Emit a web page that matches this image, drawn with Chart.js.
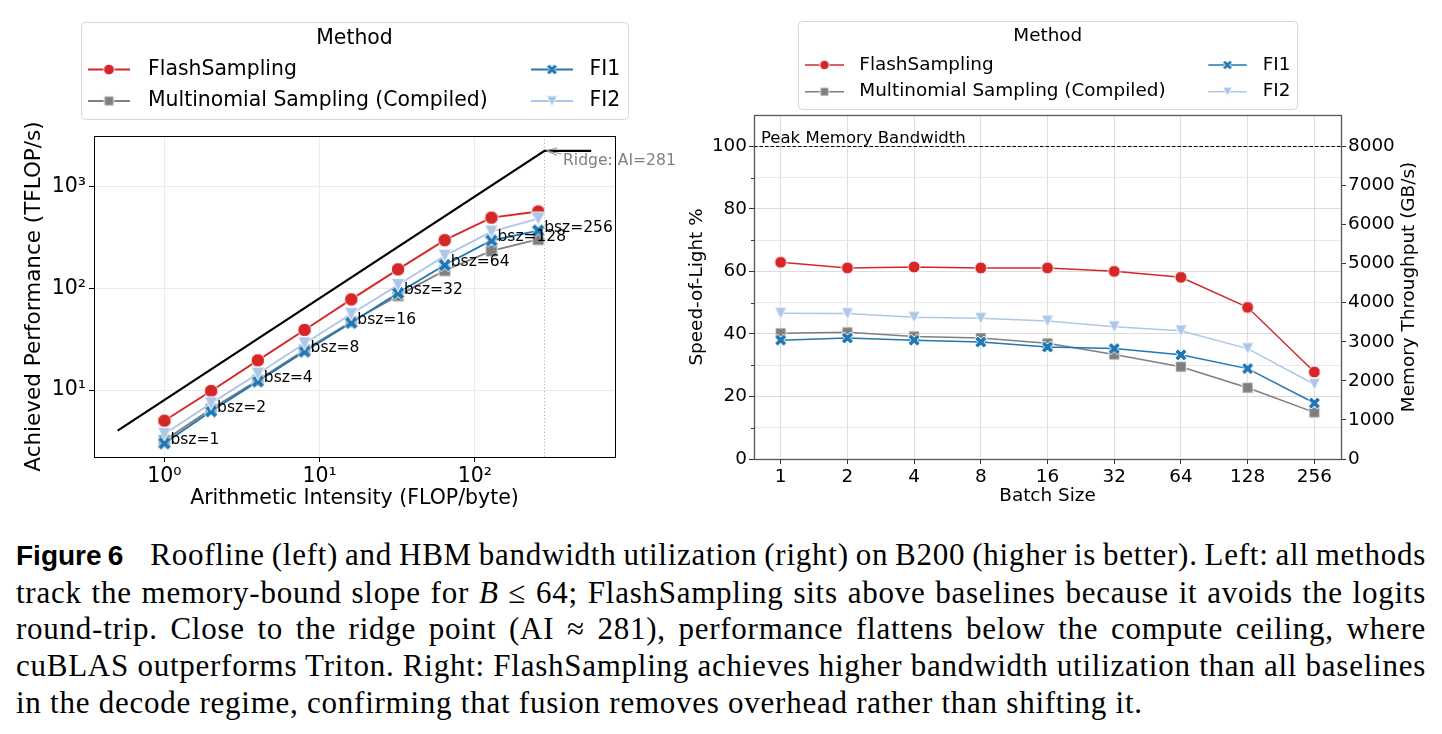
<!DOCTYPE html>
<html>
<head>
<meta charset="utf-8">
<script src="https://cdn.jsdelivr.net/npm/chart.js@4.4.1/dist/chart.umd.min.js"></script>
<style>
  html, body { margin: 0; padding: 0; background: #fff; }
  body { width: 1442px; height: 734px; position: relative; overflow: hidden; }
  canvas { position: absolute; top: 0; }
  #roofline { left: 0; }
  #bandwidth { left: 680px; }
  #caption { position: absolute; left: 16px; top: 537px; width: 1410px; color: #000;
             font-family: 'Liberation Serif', serif; font-size: 31px; line-height: 36.7px; letter-spacing: 0.75px; }
  #caption div { white-space: nowrap; }
  #caption span { display: inline-block; white-space: nowrap; }
  #caption b { font-family: 'Liberation Sans', sans-serif; font-size: 28px; letter-spacing: 0; margin-right: 20px; }
</style>
</head>
<body>
<canvas id="roofline" width="690" height="520"></canvas>
<canvas id="bandwidth" width="762" height="520"></canvas>
<div id="caption">
  <div class="j"><span><b>Figure 6</b> Roofline (left) and HBM bandwidth utilization (right) on B200 (higher is better). Left: all methods</span></div>
  <div class="j"><span>track the memory-bound slope for <i>B</i> ≤ 64; FlashSampling sits above baselines because it avoids the logits</span></div>
  <div class="j"><span>round-trip. Close to the ridge point (AI ≈ 281), performance flattens below the compute ceiling, where</span></div>
  <div class="j"><span>cuBLAS outperforms Triton. Right: FlashSampling achieves higher bandwidth utilization than all baselines</span></div>
  <div><span>in the decode regime, confirming that fusion removes overhead rather than shifting it.</span></div>
</div>
<script>
// data
const methodNames = ['FlashSampling', 'Multinomial Sampling (Compiled)', 'FI1', 'FI2'];
const batchSizes = [1, 2, 4, 8, 16, 32, 64, 128, 256];

// left: roofline (TFLOP/s vs FLOP/byte)
const intensity = [1, 2, 4, 8, 16, 32, 64, 128, 256];
const perfFlash = [5.0, 9.8, 19.6, 39, 78, 154, 298, 496, 570];
const perfMultinomial = [3.2, 6.5, 12.5, 24.8, 47, 85, 150, 234, 303];
const perfFI1 = [3.0, 6.2, 12.2, 24, 46, 90, 170, 296, 370];
const perfFI2 = [3.7, 7.4, 14.5, 28.7, 56, 108, 209, 361, 485];
const roofAI = [0.5, 281, 562];
const roofPerf = [4, 2248, 2248];
const ridgeAI = 281;
const aiTicks = [1, 10, 100];
const perfTicks = [10, 100, 1000];

// right: speed-of-light % per batch size
const solFlash = [62.9, 61.1, 61.4, 61.1, 61.1, 60.0, 58.1, 48.5, 27.8];
const solMultinomial = [40.2, 40.5, 39.2, 38.7, 37.0, 33.4, 29.5, 22.8, 14.9];
const solFI1 = [38.0, 38.7, 38.0, 37.4, 35.8, 35.3, 33.3, 28.9, 17.9];
const solFI2 = [46.6, 46.5, 45.3, 45.0, 44.1, 42.3, 41.0, 35.3, 23.9];
const peakPct = 100;
const pctTicks = [0, 10, 20, 30, 40, 50, 60, 70, 80, 90, 100];
const gbpsTicks = [0, 1000, 2000, 3000, 4000, 5000, 6000, 7000, 8000];

// styles
const colors = ['#d62728', '#7f7f7f', '#1f77b4', '#aec7e8'];
const markerKinds = ['o', 's', 'X', 'v'];
const FONT = "'DejaVu Sans', sans-serif";

Chart.defaults.font.family = FONT;
Chart.defaults.color = '#000';

function series(xs, ys) {
    return xs.map((x, i) => ({ x: x, y: ys[i] }));
}

// matplotlib-like marker drawn once into a small canvas, used as pointStyle
function makeMarker(kind, color, size) {
    const s = Math.ceil(size + 4);
    const c = document.createElement('canvas');
    c.width = s; c.height = s;
    const g = c.getContext('2d');
    const h = size / 2;
    g.translate(s / 2, s / 2);
    g.beginPath();
    if (kind === 'o') {
        g.arc(0, 0, h, 0, Math.PI * 2);
    } else if (kind === 's') {
        g.rect(-h * 0.88, -h * 0.88, h * 1.76, h * 1.76);
    } else if (kind === 'v') {
        g.moveTo(0, h); g.lineTo(-h, -h); g.lineTo(h, -h); g.closePath();
    } else if (kind === 'X') {
        const pts = [[-0.25, -0.5], [0, -0.25], [0.25, -0.5], [0.5, -0.25], [0.25, 0], [0.5, 0.25],
                     [0.25, 0.5], [0, 0.25], [-0.25, 0.5], [-0.5, 0.25], [-0.25, 0], [-0.5, -0.25]];
        pts.forEach((p, i) => i ? g.lineTo(p[0] * size, p[1] * size) : g.moveTo(p[0] * size, p[1] * size));
        g.closePath();
    }
    g.fillStyle = color;
    g.fill();
    g.strokeStyle = '#fff';
    g.lineWidth = 0.9;
    g.stroke();
    return c;
}

function drawLegend(ctx, L) {
    ctx.save();
    ctx.beginPath();
    ctx.roundRect(L.box[0] + 0.5, L.box[1] + 0.5, L.box[2], L.box[3], 4);
    ctx.fillStyle = 'rgba(255,255,255,0.8)';
    ctx.fill();
    ctx.strokeStyle = '#d6d6d6';
    ctx.lineWidth = 1;
    ctx.stroke();
    ctx.font = L.fontSize + 'px ' + FONT;
    ctx.fillStyle = '#000';
    ctx.textBaseline = 'middle';
    ctx.textAlign = 'center';
    ctx.fillText('Method', L.titleX, L.titleY);
    ctx.textAlign = 'left';
    methodNames.forEach((name, k) => {
        const col = L.cols[k < 2 ? 0 : 1];
        const y = L.rows[k % 2];
        ctx.strokeStyle = colors[k];
        ctx.lineWidth = L.lineWidth;
        ctx.beginPath();
        ctx.moveTo(col.x0, y);
        ctx.lineTo(col.x1, y);
        ctx.stroke();
        const m = L.markers[k];
        ctx.drawImage(m, (col.x0 + col.x1) / 2 - m.width / 2, y - m.height / 2);
        ctx.fillStyle = '#000';
        ctx.fillText(name, col.text, y);
    });
    ctx.restore();
}

const framePlugin = {
    id: 'frame',
    afterDraw(chart, args, opts) {
        const { ctx, chartArea: a } = chart;
        ctx.save();
        ctx.strokeStyle = opts.color;
        ctx.lineWidth = opts.width;
        ctx.strokeRect(Math.round(a.left) + 0.5, Math.round(a.top) + 0.5,
                       Math.round(a.right - a.left), Math.round(a.bottom - a.top));
        if (opts.legend) drawLegend(ctx, opts.legend);
        ctx.restore();
    }
};

// ---------- left chart ----------
const sup = { '0': '\u2070', '1': '\u00b9', '2': '\u00b2', '3': '\u00b3' };
const pow10Label = v => '10' + sup[String(Math.round(Math.log10(v)))];

const leftMarkers = colors.map((c, k) => makeMarker(markerKinds[k], c, 13.5));
const leftLegendMarkers = colors.map((c, k) => makeMarker(markerKinds[k], c, 10.7));
const perfSeries = [perfFlash, perfMultinomial, perfFI1, perfFI2];

const rooflineExtras = {
    id: 'rooflineExtras',
    beforeDatasetsDraw(chart) {
        const { ctx, chartArea: a, scales } = chart;
        const x = Math.round(scales.x.getPixelForValue(ridgeAI)) + 0.5;
        ctx.save();
        ctx.strokeStyle = '#b0b0b0';
        ctx.lineWidth = 1;
        ctx.setLineDash([1.2, 2.2]);
        ctx.beginPath();
        ctx.moveTo(x, a.top);
        ctx.lineTo(x, a.bottom);
        ctx.stroke();
        ctx.restore();
    },
    afterDatasetsDraw(chart) {
        const { ctx, scales } = chart;
        ctx.save();
        // bsz labels next to the FI1 points
        const meta = chart.getDatasetMeta(chart.data.datasets.findIndex(d => d.label === 'FI1'));
        ctx.font = '15.5px ' + FONT;
        ctx.fillStyle = '#000';
        ctx.textBaseline = 'middle';
        ctx.textAlign = 'left';
        meta.data.forEach((pt, i) => ctx.fillText('bsz=' + batchSizes[i], pt.x + 6, pt.y - 3));
        // ridge annotation arrow
        const rx = scales.x.getPixelForValue(ridgeAI);
        const ry = scales.y.getPixelForValue(roofPerf[1]);
        ctx.strokeStyle = '#8a8a8a';
        ctx.lineWidth = 1;
        ctx.beginPath();
        ctx.moveTo(rx + 17, ry + 3);
        ctx.lineTo(rx + 2, ry);
        ctx.moveTo(rx + 12.5, ry - 3);
        ctx.lineTo(rx + 2, ry);
        ctx.lineTo(rx + 12.5, ry + 4.5);
        ctx.stroke();
        ctx.restore();
    },
    afterDraw(chart) {
        const { ctx, scales } = chart;
        const rx = scales.x.getPixelForValue(ridgeAI);
        const ry = scales.y.getPixelForValue(roofPerf[1]);
        ctx.save();
        ctx.font = '15.6px ' + FONT;
        ctx.fillStyle = '#808080';
        ctx.textBaseline = 'middle';
        ctx.fillText('Ridge: AI=' + ridgeAI, rx + 18.5, ry + 10.5);
        ctx.restore();
    }
};

new Chart(document.getElementById('roofline'), {
    type: 'line',
    data: {
        datasets: [
            {
                label: 'roof',
                data: series(roofAI, roofPerf),
                borderColor: '#000',
                borderWidth: 2.2,
                pointRadius: 0,
                order: 10,
            },
            ...methodNames.map((name, k) => ({
                label: name,
                data: series(intensity, perfSeries[k]),
                borderColor: colors[k],
                backgroundColor: colors[k],
                borderWidth: 1.9,
                pointStyle: leftMarkers[k],
                pointRadius: 6,
                order: 4 - k,
            })),
        ]
    },
    options: {
        responsive: false,
        animation: false,
        devicePixelRatio: 1,
        layout: { padding: { left: 0, top: 136, right: 75, bottom: 0 } },
        plugins: {
            legend: { display: false },
            tooltip: { enabled: false },
            frame: {
                color: '#000', width: 1,
                legend: {
                    box: [81, 22, 547, 97], fontSize: 20.4, titleX: 354.5, titleY: 38.5,
                    rows: [69.5, 101], lineWidth: 1.8, markers: leftLegendMarkers,
                    cols: [{ x0: 88, x1: 130, text: 148 }, { x0: 531, x1: 573, text: 589.5 }],
                },
            },
        },
        scales: {
            x: {
                type: 'logarithmic',
                min: 0.352,
                max: 800,
                bounds: 'data',
                afterBuildTicks: s => { s.ticks = aiTicks.map(v => ({ value: v })); },
                afterFit: s => { s.height = 63; },
                ticks: { callback: v => pow10Label(v), font: { size: 20.5 }, padding: 2, maxRotation: 0, autoSkip: false },
                grid: { color: '#ebebeb', tickLength: 5, tickColor: '#000' },
                border: { display: false },
                title: { display: true, text: 'Arithmetic Intensity (FLOP/byte)', font: { size: 20.5 }, padding: { top: 0, bottom: 8.7 } },
            },
            y: {
                type: 'logarithmic',
                min: 2.2,
                max: 3150,
                bounds: 'data',
                afterBuildTicks: s => { s.ticks = perfTicks.map(v => ({ value: v })); },
                afterFit: s => { s.width = 94; },
                ticks: { callback: v => pow10Label(v), font: { size: 20.5 }, padding: 3, autoSkip: false },
                grid: { color: '#ebebeb', tickLength: 5, tickColor: '#000' },
                border: { display: false },
                title: { display: true, text: 'Achieved Performance (TFLOP/s)', font: { size: 21.5 }, padding: { top: 22, bottom: 0 } },
            }
        }
    },
    plugins: [framePlugin, rooflineExtras]
});

// ---------- right chart ----------
const rightMarkers = colors.map((c, k) => makeMarker(markerKinds[k], c, 12));
const rightLegendMarkers = colors.map((c, k) => makeMarker(markerKinds[k], c, 9.5));
const solSeries = [solFlash, solMultinomial, solFI1, solFI2];
const batchIndex = batchSizes.map((b, i) => i);

const bandwidthExtras = {
    id: 'bandwidthExtras',
    afterDatasetsDraw(chart) {
        const { ctx, chartArea: a, scales } = chart;
        const y = Math.round(scales.y.getPixelForValue(peakPct)) + 0.5;
        ctx.save();
        ctx.strokeStyle = '#000';
        ctx.lineWidth = 1;
        ctx.setLineDash([3.5, 2]);
        ctx.beginPath();
        ctx.moveTo(a.left, y);
        ctx.lineTo(a.right, y);
        ctx.stroke();
        ctx.setLineDash([]);
        ctx.font = '16.5px ' + FONT;
        ctx.fillStyle = '#000';
        ctx.textBaseline = 'alphabetic';
        ctx.fillText('Peak Memory Bandwidth', a.left + 7, y - 4);
        // minor ticks on the left axis
        ctx.strokeStyle = '#333';
        pctTicks.filter(v => v % 20 !== 0).forEach(v => {
            const ty = Math.round(scales.y.getPixelForValue(v)) + 0.5;
            ctx.beginPath();
            ctx.moveTo(a.left - 3, ty);
            ctx.lineTo(a.left, ty);
            ctx.stroke();
        });
        // right axis title, reading bottom to top
        ctx.translate(729, (a.top + a.bottom) / 2);
        ctx.rotate(-Math.PI / 2);
        ctx.font = '18.4px ' + FONT;
        ctx.textAlign = 'center';
        ctx.textBaseline = 'middle';
        ctx.fillText('Memory Throughput (GB/s)', 0, 0);
        ctx.restore();
    }
};

new Chart(document.getElementById('bandwidth'), {
    type: 'line',
    data: {
        datasets: methodNames.map((name, k) => ({
            label: name,
            data: series(batchIndex, solSeries[k]),
            borderColor: colors[k],
            backgroundColor: colors[k],
            borderWidth: 1.5,
            pointStyle: rightMarkers[k],
            pointRadius: 6,
            order: 4 - k,
            yAxisID: 'y',
        }))
    },
    options: {
        responsive: false,
        animation: false,
        devicePixelRatio: 1,
        layout: { padding: { left: 0, top: 115, right: 0, bottom: 0 } },
        plugins: {
            legend: { display: false },
            tooltip: { enabled: false },
            frame: {
                color: '#555', width: 1.3,
                legend: {
                    box: [118, 21, 499, 88], fontSize: 18.4, titleX: 367.8, titleY: 36.7,
                    rows: [65, 91.7], lineWidth: 1.5, markers: rightLegendMarkers,
                    cols: [{ x0: 125, x1: 164, text: 179.3 }, { x0: 528.3, x1: 566.7, text: 582.7 }],
                },
            },
        },
        scales: {
            x: {
                type: 'linear',
                min: -0.4,
                max: 8.4,
                bounds: 'data',
                afterBuildTicks: s => { s.ticks = batchIndex.map(v => ({ value: v })); },
                afterFit: s => { s.height = 61; },
                ticks: { callback: (v, i) => String(batchSizes[i]), font: { size: 18.4 }, padding: 2, maxRotation: 0, autoSkip: false },
                grid: { color: '#dedede', tickLength: 5, tickColor: '#333' },
                border: { display: false },
                title: { display: true, text: 'Batch Size', font: { size: 18.4 }, padding: { top: 0, bottom: 13 } },
            },
            y: {
                type: 'linear',
                position: 'left',
                min: 0,
                max: 110,
                bounds: 'data',
                afterBuildTicks: s => { s.ticks = pctTicks.map(v => ({ value: v })); },
                afterFit: s => { s.width = 74; },
                ticks: { callback: v => (v % 20 === 0 ? String(v) : ''), font: { size: 18.4 }, padding: 2, autoSkip: false },
                grid: {
                    color: c => (c.tick && c.tick.value % 20 === 0 ? '#dcdcdc' : '#e9e9e9'),
                    tickColor: c => (c.tick && c.tick.value % 20 === 0 ? '#333' : 'rgba(0,0,0,0)'),
                    tickLength: 5,
                },
                border: { display: false },
                title: { display: true, text: 'Speed-of-Light %', font: { size: 18.4 }, padding: { top: 6.5, bottom: 0 } },
            },
            y2: {
                type: 'linear',
                position: 'right',
                min: 0,
                max: 8800,
                bounds: 'data',
                afterBuildTicks: s => { s.ticks = gbpsTicks.map(v => ({ value: v })); },
                afterFit: s => { s.width = 101; },
                ticks: { callback: v => String(v), font: { size: 18.4 }, padding: 2, autoSkip: false },
                grid: { drawOnChartArea: false, tickLength: 5, tickColor: '#333' },
                border: { display: false },
            }
        }
    },
    plugins: [framePlugin, bandwidthExtras]
});

// caption: stretch the first four lines to full width like justified text
function justifyCaption() {
    document.querySelectorAll('#caption .j span').forEach(span => {
        span.style.wordSpacing = '0px';
        const w = span.getBoundingClientRect().width;
        const gaps = (span.textContent.match(/ /g) || []).length;
        span.style.wordSpacing = ((1410 - w) / gaps) + 'px';
    });
}
justifyCaption();
if (document.fonts) document.fonts.ready.then(justifyCaption);
</script>
</body>
</html>
